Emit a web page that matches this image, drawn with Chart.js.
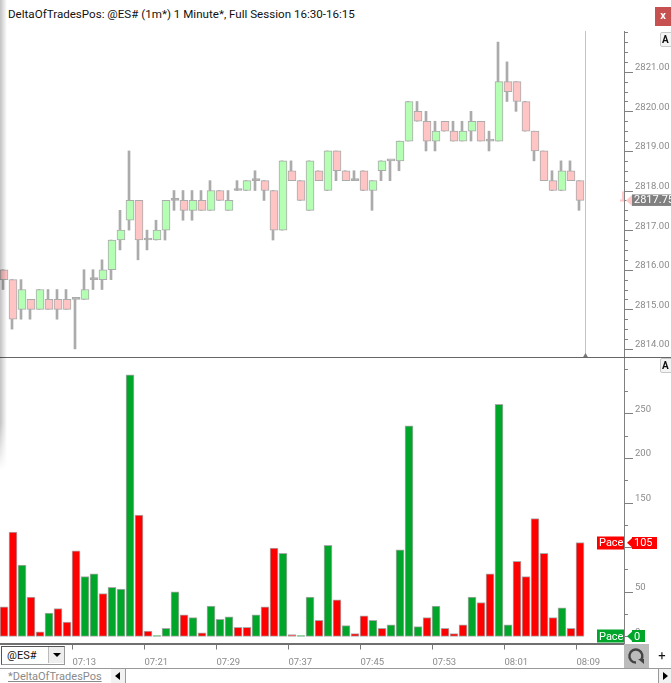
<!DOCTYPE html>
<html>
<head>
<meta charset="utf-8">
<title>DeltaOfTradesPos</title>
<script src="https://cdn.jsdelivr.net/npm/chart.js@4"></script>
<style>
html, body { margin: 0; padding: 0; background: #fff; }
#page { position: relative; width: 671px; height: 683px; overflow: hidden; font-family: Roboto, sans-serif; }
#page canvas { position: absolute; left: 0; }
#priceChart { top: 31px; }
#paceChart { top: 358px; }
.abs { position: absolute; }
#chartTitle { left: 8px; top: 6px; font-size: 11.6px; line-height: 17px; color: #111; white-space: nowrap; }
#closeBtn { left: 655px; top: 7px; width: 16px; height: 19px; background: #c75050; color: #fff; font: bold 11px/18px Roboto; text-align: center; }
.autoBtn { left: 660px; width: 14px; height: 13px; border: 1px solid #c8c8c8; border-radius: 2px; background: #f4f4f4; font: bold 10px/13px Roboto; color: #111; padding-left: 1px; box-sizing: content-box; }
#shadow { left: 0; top: 0; width: 7px; height: 470px; background: linear-gradient(to right, rgba(0,0,0,.24), rgba(0,0,0,0)); pointer-events: none; -webkit-mask-image: linear-gradient(to bottom, #000 90%, transparent); mask-image: linear-gradient(to bottom, #000 90%, transparent); }
#paneLine { left: 0; top: 357px; width: 671px; height: 1px; background: #666; }
#symbolBox { left: 1px; top: 646px; width: 62px; height: 17px; border: 1px solid #555; border-right-color: #999; border-bottom-color: #999; background: #fff; font-size: 11px; line-height: 17px; text-indent: 5px; color: #111; }
#symbolArrow { left: 48px; top: 647px; width: 15px; height: 16px; background: #eee; border-left: 1px solid #bbb; }
#symbolArrow:after, #tabLeft:after, #tabRight:after { content: ""; position: absolute; width: 0; height: 0; }
#symbolArrow:after { left: 4px; top: 6px; border-left: 4px solid transparent; border-right: 4px solid transparent; border-top: 4px solid #000; }
#refreshBtn { left: 624px; top: 644px; width: 25px; height: 24px; background: #bcbcbc; }
#plusBtn { left: 656px; top: 647px; width: 12px; font-size: 13px; line-height: 18px; text-align: center; color: #111; }
#footLine { left: 0; top: 668px; width: 671px; height: 1px; background: #9a9a9a; }
#tabName { left: 8px; top: 670px; font-size: 11px; line-height: 14px; color: #8a8a8a; text-decoration: underline; white-space: nowrap; }
#tabLeft { left: 111px; top: 669px; width: 14px; height: 14px; border-right: 1px solid #999; background: #f2f2f2; }
#tabLeft:after { left: 4px; top: 3px; border-top: 4px solid transparent; border-bottom: 4px solid transparent; border-right: 5px solid #000; }
#tabRight { left: 658px; top: 669px; width: 13px; height: 14px; border-left: 1px solid #999; background: #f2f2f2; }
#tabRight:after { left: 4px; top: 3px; border-top: 4px solid transparent; border-bottom: 4px solid transparent; border-left: 5px solid #000; }
</style>
</head>
<body>
<div id="page">
  <canvas id="priceChart" width="671" height="327"></canvas>
  <canvas id="paceChart" width="671" height="310"></canvas>
  <div id="paneLine" class="abs"></div>
  <div id="shadow" class="abs"></div>
  <div id="chartTitle" class="abs">DeltaOfTradesPos: @ES# (1m*) 1 Minute*, Full Session 16:30-16:15</div>
  <div id="closeBtn" class="abs">x</div>
  <div class="abs autoBtn" style="top:32px">A</div>
  <div class="abs autoBtn" style="top:358px">A</div>
  <div id="symbolBox" class="abs">@ES#</div>
  <div id="symbolArrow" class="abs"></div>
  <div id="refreshBtn" class="abs">
    <svg width="25" height="24" viewBox="0 0 25 24"><path d="M17 16 A6.5 6.5 0 1 0 12 18.5" fill="none" stroke="#444" stroke-width="2.4"/><path d="M14 15 L20 15 L20 20 Z" fill="#444"/></svg>
  </div>
  <div id="plusBtn" class="abs">+</div>
  <div id="footLine" class="abs"></div>
  <div id="tabName" class="abs">*DeltaOfTradesPos</div>
  <div id="tabLeft" class="abs"></div>
  <div id="tabRight" class="abs"></div>
</div>

<script>
// Candles, one per minute
const opens = [2816, 2815.75, 2815, 2815.25, 2815, 2815.25, 2815.25, 2815.25, 2815.25, 2815.25, 2815.75, 2815.75, 2816, 2816.75, 2817.25, 2817.75, 2816.75, 2816.75, 2817, 2817.75, 2817.75, 2817.5, 2817.75, 2817.5, 2818, 2817.5, 2818, 2818, 2818.25, 2818.25, 2818, 2817, 2818.5, 2818.25, 2817.5, 2818.5, 2818, 2819, 2818.5, 2818.25, 2818.5, 2818, 2818.5, 2818.75, 2818.75, 2819.25, 2820, 2819.75, 2819.25, 2819.75, 2819.5, 2819.25, 2819.5, 2819.75, 2819.25, 2819.25, 2820.75, 2820.75, 2820.25, 2819.5, 2819, 2818.25, 2818, 2818.5, 2818.25];
const closes = [2815.75, 2814.75, 2815.5, 2815, 2815.5, 2815, 2815, 2815, 2815.25, 2815.5, 2815.75, 2816, 2816.75, 2817, 2817.75, 2816.75, 2816.75, 2817, 2817.75, 2817.75, 2817.5, 2817.75, 2817.5, 2818, 2817.75, 2817.75, 2818, 2818.25, 2818.25, 2818, 2817, 2818.75, 2818.25, 2817.75, 2818.75, 2818.25, 2819, 2818.5, 2818.25, 2818.25, 2818, 2818.25, 2818.75, 2818.75, 2819.25, 2820.25, 2819.75, 2819.25, 2819.5, 2819.5, 2819.25, 2819.5, 2819.75, 2819.25, 2819.25, 2820.75, 2820.5, 2820.25, 2819.5, 2819, 2818.25, 2818, 2818.5, 2818.25, 2817.75];
const highs = [2816, 2815.75, 2815.75, 2815.25, 2815.5, 2815.5, 2815.5, 2815.5, 2815.25, 2816, 2816, 2816.25, 2816.75, 2817.5, 2819, 2817.75, 2817, 2817.25, 2817.75, 2818, 2818, 2818, 2818, 2818.25, 2818, 2818, 2818.25, 2818.25, 2818.5, 2818.25, 2818, 2818.75, 2818.75, 2818.25, 2818.75, 2818.5, 2819, 2819, 2818.5, 2818.5, 2818.5, 2818.25, 2818.75, 2818.75, 2819.25, 2820.25, 2820.25, 2820, 2819.75, 2819.75, 2819.75, 2819.75, 2820, 2819.75, 2819.5, 2821.75, 2821.25, 2820.75, 2820.25, 2819.5, 2819, 2818.5, 2818.75, 2818.75, 2818.25];
const lows = [2815.5, 2814.5, 2814.75, 2814.75, 2815, 2815, 2814.75, 2815, 2814, 2815.25, 2815.5, 2815.5, 2815.75, 2816.5, 2817, 2816.25, 2816.5, 2816.75, 2816.75, 2817.5, 2817.25, 2817.25, 2817.5, 2817.5, 2817.75, 2817.5, 2818, 2818, 2818, 2817.75, 2816.75, 2817, 2818.25, 2817.75, 2817.5, 2818.25, 2818, 2818.25, 2818.25, 2818.25, 2818, 2817.5, 2818.25, 2818.25, 2818.5, 2819.25, 2819.75, 2819, 2819, 2819.5, 2819.25, 2819.25, 2819.25, 2819.25, 2819, 2819.25, 2820.25, 2820, 2819.5, 2818.75, 2818.25, 2818, 2818, 2818.25, 2817.5];

// DeltaOfTradesPos bars
const paceValues = [33, 117, 80, 44, 5, 26, 31, 16, 96, 67, 70, 48, 55, 53, 293, 136, 6, 1, 9, 50, 24, 21, 4, 34, 19, 22, 10, 10, 24, 33, 99, 93, 2, 1, 44, 18, 102, 41, 12, 3, 23, 18, 9, 13, 97, 236, 11, 21, 34, 9, 3, 13, 44, 38, 70, 260, 13, 84, 67, 132, 93, 21, 32, 9, 105];
const paceSides = ["s","s","b","s","s","b","s","s","s","b","b","s","b","b","b","s","s","b","b","b","s","b","s","b","b","b","s","s","b","s","s","b","s","b","b","s","b","s","b","s","s","b","s","b","b","b","b","s","b","s","s","s","b","s","s","b","b","s","s","s","s","s","b","s","s"];

// Axis text
const timeLabels = ["07:13", "07:21", "07:29", "07:37", "07:45", "07:53", "08:01", "08:09"];
const priceLabels = [2814, 2815, 2816, 2817, 2818, 2819, 2820, 2821];
const paceLabels = [0, 50, 100, 150, 200, 250];
const lastPrice = 2817.75;
const lastPace = 105;
const lastPaceSeller = 0;

const GREY = "#ababab";
const AXIS = "#808080";
const TEXT = "#8b8b8b";
const GREEN = "#00a629";
const RED = "#ff0000";
const xMin = -4 / 9, xMax = 620 / 9;
const tickFont = { family: "Roboto", size: 9.5, lineHeight: "4px" };

function isDoji(i) { return opens[i] === closes[i]; }

function minorTicks(chart) {
    const s = chart.scales.y, ctx = chart.ctx;
    ctx.save();
    ctx.strokeStyle = AXIS;
    ctx.lineWidth = 1;
    s.ticks.forEach(t => {
        const y = Math.round(s.getPixelForValue(t.value)) + 0.5;
        const len = t.label && t.label.length ? 9 : 4;
        ctx.beginPath();
        ctx.moveTo(s.left, y);
        ctx.lineTo(s.left + len, y);
        ctx.stroke();
    });
    ctx.restore();
}

// little arrow label that sits on the axis
function drawFlag(ctx, x, y, w, color, text, size) {
    ctx.fillStyle = color;
    ctx.beginPath();
    ctx.moveTo(x, y);
    ctx.lineTo(x + 6, y - 5.5);
    ctx.lineTo(x + 6, y + 5.5);
    ctx.fill();
    ctx.fillRect(x + 5, Math.round(y) - 6, w, 12);
    ctx.fillStyle = "#fff";
    ctx.font = size + "px Roboto";
    ctx.textBaseline = "middle";
    ctx.textAlign = "left";
    ctx.fillText(text, x + 7, y + 0.5);
}

const priceExtras = {
    id: "priceExtras",
    afterDraw(chart) {
        const ctx = chart.ctx, x = chart.scales.x, y = chart.scales.y;
        minorTicks(chart);
        // session end marker
        const endX = Math.round(x.getPixelForValue(64.5)) + 0.5;
        ctx.strokeStyle = "#c4c4c4";
        ctx.lineWidth = 1;
        ctx.beginPath();
        ctx.moveTo(endX, y.top);
        ctx.lineTo(endX, y.bottom);
        ctx.stroke();
        ctx.fillStyle = "#777";
        ctx.beginPath();
        ctx.moveTo(endX, y.bottom - 5);
        ctx.lineTo(endX + 3, y.bottom);
        ctx.lineTo(endX - 3, y.bottom);
        ctx.fill();
        // last price
        const py = y.getPixelForValue(lastPrice);
        ctx.fillStyle = "#ffc8c8";
        ctx.fillRect(y.left - 2, py - 9, 2, 10);
        ctx.fillRect(y.left - 4, py - 1, 4, 2);
        ctx.beginPath();
        ctx.moveTo(y.left + 2, py);
        ctx.lineTo(y.left + 8, py - 5.5);
        ctx.lineTo(y.left + 8, py + 5.5);
        ctx.fill();
        ctx.fillStyle = AXIS;
        ctx.fillRect(y.left + 8, py - 6, 50, 11.5);
        ctx.fillStyle = "#fff";
        ctx.font = "11px Roboto";
        ctx.textBaseline = "middle";
        ctx.fillText(lastPrice.toFixed(2), y.left + 10, py);
    }
};

const paceExtras = {
    id: "paceExtras",
    afterDraw(chart) {
        const ctx = chart.ctx, y = chart.scales.y;
        minorTicks(chart);
        const redY = y.getPixelForValue(lastPace), greenY = y.getPixelForValue(lastPaceSeller);
        [[redY, RED, String(lastPace), 25], [greenY, GREEN, String(lastPaceSeller), 13]].forEach(f => {
            ctx.fillStyle = f[1];
            ctx.fillRect(y.left - 27, Math.round(f[0]) - 6.5, 27, 13);
            ctx.fillStyle = "#fff";
            ctx.font = "11px Roboto";
            ctx.textBaseline = "middle";
            ctx.textAlign = "left";
            ctx.fillText("Pace", y.left - 25, f[0] + 0.5);
            drawFlag(ctx, y.left + 3, f[0], f[3], f[1], f[2], 11);
        });
    }
};

const xs = opens.map((_, i) => i);

new Chart(document.getElementById("priceChart"), {
    type: "bar",
    data: {
        datasets: [
            {
                // body
                data: xs.map(i => ({ x: i, y: [opens[i], closes[i]] })),
                barThickness: 8,
                minBarLength: 2,
                borderWidth: 1,
                borderSkipped: false,
                borderColor: GREY,
                backgroundColor: ctx => {
                    const i = ctx.dataIndex;
                    if (isDoji(i)) return GREY;
                    return closes[i] > opens[i] ? "#b4ffb4" : "#ffc4c4";
                },
                grouped: false,
                order: 1
            },
            {
                // wick, sits a pixel left of the body
                data: xs.map(i => ({ x: i - 1 / 9, y: [lows[i], highs[i]] })),
                barThickness: 2,
                backgroundColor: GREY,
                borderWidth: 0,
                grouped: false,
                order: 2
            }
        ]
    },
    options: {
        responsive: false,
        animation: false,
        layout: { padding: 0 },
        plugins: { legend: { display: false }, tooltip: { enabled: false } },
        scales: {
            x: { type: "linear", display: false, offset: false, min: xMin, max: xMax, grid: { display: false } },
            y: {
                position: "right",
                min: 2813.77,
                max: 2822.03,
                afterFit: s => { s.width = 47; s.paddingTop = 0; s.paddingBottom = 0; },
                grid: { display: false, drawTicks: false },
                border: { color: AXIS },
                ticks: {
                    stepSize: 0.25,
                    includeBounds: false,
                    autoSkip: false,
                    padding: 11,
                    color: TEXT,
                    font: tickFont,
                    callback: v => priceLabels.includes(v) ? [v.toFixed(2), "", ""] : ""
                }
            }
        }
    },
    plugins: [priceExtras]
});

new Chart(document.getElementById("paceChart"), {
    type: "bar",
    data: {
        datasets: [{
            data: xs.map(i => ({ x: i, y: paceValues[i] })),
            barThickness: 8,
            borderWidth: 1,
            borderSkipped: false,
            borderColor: GREY,
            backgroundColor: ctx => paceSides[ctx.dataIndex] === "b" ? GREEN : RED
        }]
    },
    options: {
        responsive: false,
        animation: false,
        layout: { padding: 0 },
        plugins: { legend: { display: false }, tooltip: { enabled: false } },
        scales: {
            x: {
                type: "linear",
                offset: false,
                min: xMin,
                max: xMax,
                afterFit: s => { s.height = 24.5; s.paddingLeft = 0; s.paddingRight = 0; },
                afterBuildTicks: s => {
                    s.ticks = timeLabels.map((_, k) => ({ value: 7.6 + 8 * k }));
                },
                grid: { display: true, offset: false, drawOnChartArea: false, tickLength: 6, tickColor: "#777" },
                border: { color: "#707070", width: 2 },
                ticks: {
                    autoSkip: false,
                    maxRotation: 0,
                    align: "start",
                    padding: 7,
                    color: TEXT,
                    font: { family: "Roboto", size: 9.5 },
                    callback: (v, idx) => timeLabels[idx]
                }
            },
            y: {
                position: "right",
                min: -8,
                max: 312,
                afterFit: s => { s.width = 47; s.paddingTop = 0; s.paddingBottom = 0; },
                grid: { display: false, drawTicks: false },
                border: { color: AXIS },
                ticks: {
                    stepSize: 25,
                    includeBounds: false,
                    autoSkip: false,
                    padding: 11,
                    color: TEXT,
                    font: tickFont,
                    callback: v => paceLabels.includes(v) ? [String(v), "", ""] : ""
                }
            }
        }
    },
    plugins: [paceExtras]
});
</script>
</body>
</html>
